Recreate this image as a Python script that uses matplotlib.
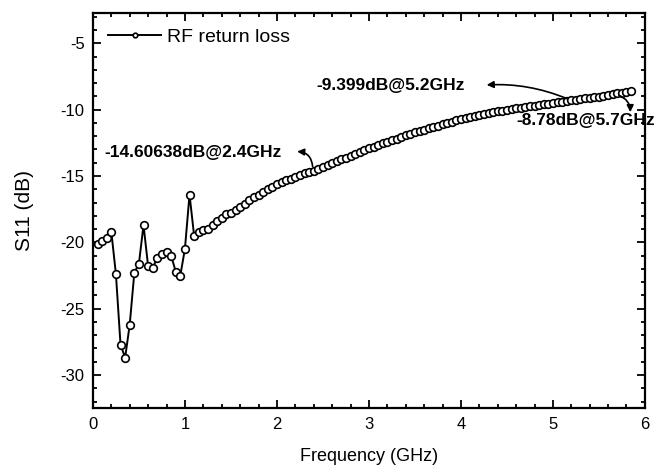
import numpy as np
import matplotlib
matplotlib.use("Agg")
import matplotlib.pyplot as plt
from matplotlib.ticker import MultipleLocator

plt.rcParams['font.family'] = ['Liberation Sans', 'DejaVu Sans']
plt.rcParams['axes.unicode_minus'] = False

# frequency grid, 0.05 GHz steps from 0.05 to 5.85 GHz
freq = np.round(np.arange(1, 118) * 0.05, 2)

s11 = [
    -20.1, -19.9, -19.7, -19.2, -22.4, -27.7, -28.7, -26.2, -22.3, -21.6,   # 0.05-0.50
    -18.7, -21.8, -21.9, -21.2, -20.9, -20.7, -21.0, -22.2, -22.5, -20.5,   # 0.55-1.00
    -16.4, -19.5, -19.2, -19.1, -19.0, -18.7, -18.4, -18.2, -17.9, -17.8,   # 1.05-1.50
    -17.6, -17.3, -17.1, -16.8, -16.6, -16.4, -16.2, -16.0, -15.8, -15.6,   # 1.55-2.00
    -15.45, -15.3, -15.2, -15.05, -14.95, -14.8, -14.7, -14.6, -14.45, -14.31,  # 2.05-2.50
    -14.17, -14.03, -13.89, -13.75, -13.61, -13.47, -13.33, -13.19, -13.05, -12.92,  # 2.55-3.00
    -12.78, -12.66, -12.54, -12.42, -12.3, -12.18, -12.06, -11.94, -11.82, -11.7,  # 3.05-3.50
    -11.6, -11.5, -11.4, -11.3, -11.2, -11.1, -11.0, -10.9, -10.8, -10.7,   # 3.55-4.00
    -10.63, -10.56, -10.49, -10.42, -10.35, -10.28, -10.21, -10.14, -10.07, -10.0,  # 4.05-4.50
    -9.95, -9.9, -9.85, -9.8, -9.75, -9.7, -9.65, -9.6, -9.55, -9.5,   # 4.55-5.00
    -9.45, -9.41, -9.36, -9.31, -9.26, -9.21, -9.16, -9.12, -9.07, -9.02,   # 5.05-5.50
    -8.96, -8.9, -8.84, -8.78, -8.73, -8.67, -8.62,   # 5.55-5.85
]

# annotations: text, text position, point on curve, arrow head, arc
notes = [
    ("-14.60638dB@2.4GHz", (0.12, -13.2), (2.39, -14.5), (2.19, -13.15), 0.5),
    ("-9.399dB@5.2GHz", (2.43, -8.15), (5.18, -9.25), (4.25, -8.15), 0.12),
    ("-8.78dB@5.7GHz", (4.6, -10.8), (5.69, -8.85), (5.84, -10.4), -0.4),
]

fig = plt.figure(figsize=(6.59, 4.73), dpi=100)
ax = fig.add_axes([0.141, 0.137, 0.8376, 0.836])

ax.plot(freq, s11, '-', color='black', lw=1.4, marker='o', ms=5.5,
        mfc='white', mec='black', mew=1.2, label='RF return loss')

for txt, tpos, tail, head, rad in notes:
    ax.text(tpos[0], tpos[1], txt, fontsize=12.5, fontweight='bold',
            va='center', ha='left', color='black')
    ax.annotate('', xy=head, xytext=tail,
                arrowprops=dict(arrowstyle='-|>', color='black', lw=1.2,
                                mutation_scale=10,
                                connectionstyle='arc3,rad=%s' % rad))

ax.set_xlim(0, 6)
ax.set_ylim(-32.5, -2.7)
ax.xaxis.set_major_locator(MultipleLocator(1))
ax.xaxis.set_minor_locator(MultipleLocator(0.2))
ax.yaxis.set_major_locator(MultipleLocator(5))
ax.yaxis.set_minor_locator(MultipleLocator(1))
ax.tick_params(which='both', direction='in', top=True, right=True,
               labelsize=12, width=1.3)
ax.tick_params(which='major', length=6, pad=6)
ax.tick_params(which='minor', length=3)
for sp in ax.spines.values():
    sp.set_linewidth(1.6)

ax.set_xlabel("Frequency (GHz)", fontsize=13, labelpad=12)
ax.set_ylabel("S11 (dB)", fontsize=15, labelpad=19)

leg = ax.legend(loc='upper left', frameon=False, fontsize=14, numpoints=1,
                handlelength=2.7, borderaxespad=0.3, handletextpad=0.3,
                markerscale=0.6, borderpad=0.5)

fig.savefig("out.png", dpi=100)
